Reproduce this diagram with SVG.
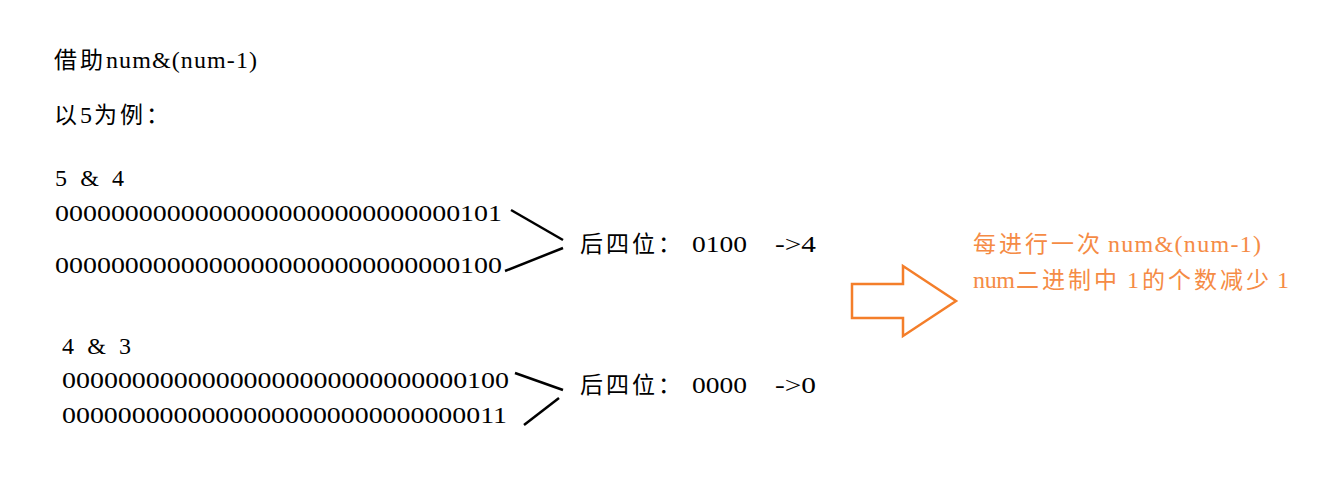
<svg xmlns="http://www.w3.org/2000/svg" width="1338" height="480" viewBox="0 0 1338 480">
<style>
text{font-family:"Liberation Serif","Noto Sans CJK SC",serif;font-size:24px;fill:#000}
.c{font-family:"Noto Sans CJK SC",sans-serif;font-size:23px;letter-spacing:3px}
.o{fill:#F58B45}
.l{stroke:#000;stroke-width:2.5;fill:none}
</style>
<rect width="1338" height="480" fill="#fff"/>
<g id="title"><text y="68"><tspan class="c" x="54">借助</tspan><tspan x="106" textLength="151" lengthAdjust="spacing">num&amp;(num-1)</tspan></text></g>
<g id="example"><text y="123"><tspan class="c" x="54">以</tspan><tspan x="80">5</tspan><tspan class="c" x="94">为例：</tspan></text></g>
<g id="block1">
<text x="55" y="186" textLength="69" lengthAdjust="spacing">5 &amp; 4</text>
<text x="55" y="221" textLength="447" lengthAdjust="spacingAndGlyphs">00000000000000000000000000000101</text>
<text x="55" y="273" textLength="447" lengthAdjust="spacingAndGlyphs">00000000000000000000000000000100</text>
</g>
<g id="result1"><text y="252"><tspan class="c" x="580">后四位：</tspan><tspan x="692" textLength="55" lengthAdjust="spacingAndGlyphs">0100</tspan><tspan x="775" textLength="41" lengthAdjust="spacingAndGlyphs">-&gt;4</tspan></text></g>
<g id="block2">
<text x="62" y="354" textLength="69" lengthAdjust="spacing">4 &amp; 3</text>
<text x="62" y="388" textLength="447" lengthAdjust="spacingAndGlyphs">00000000000000000000000000000100</text>
<text x="62" y="423" textLength="445" lengthAdjust="spacingAndGlyphs">00000000000000000000000000000011</text>
</g>
<g id="result2"><text y="393"><tspan class="c" x="580">后四位：</tspan><tspan x="692" textLength="55" lengthAdjust="spacingAndGlyphs">0000</tspan><tspan x="775" textLength="41" lengthAdjust="spacingAndGlyphs">-&gt;0</tspan></text></g>
<g id="arrow"><polygon points="852,284 903,284 903,266 956,301 903,336 903,318 852,318" fill="none" stroke="#F47E2A" stroke-width="2.5"/></g>
<g id="note">
<text class="o" y="252"><tspan class="c o" x="973">每进行一次</tspan><tspan class="o" x="1108" textLength="153" lengthAdjust="spacing">num&amp;(num-1)</tspan></text>
<text class="o" y="288"><tspan class="o" x="973" textLength="42" lengthAdjust="spacing">num</tspan><tspan class="c o" x="1016">二进制中</tspan><tspan class="o" x="1127">1</tspan><tspan class="c o" x="1142">的个数减少</tspan><tspan class="o" x="1277">1</tspan></text>
</g>
<g id="connectors">
<polyline class="l" points="511,210 563,240"/>
<polyline class="l" points="505,271 563,248"/>
<polyline class="l" points="515,373 563,390"/>
<polyline class="l" points="524,425 559,398"/>
</g>
</svg>
